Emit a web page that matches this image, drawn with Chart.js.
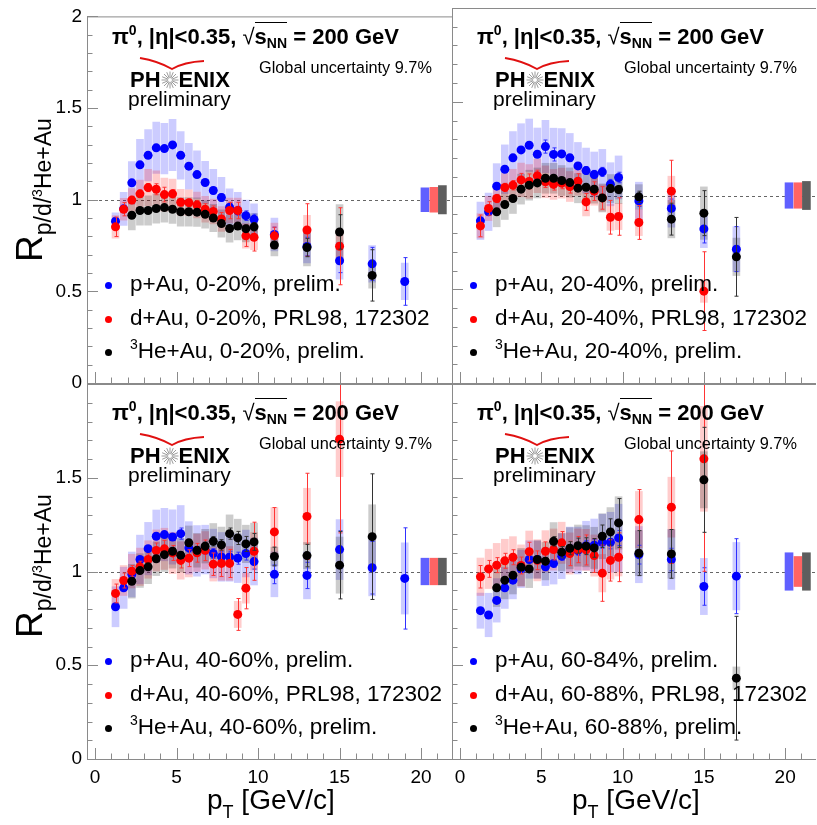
<!DOCTYPE html>
<html>
<head>
<meta charset="utf-8">
<script src="https://cdn.jsdelivr.net/npm/chart.js@4.4.1/dist/chart.umd.min.js"></script>
<style>
  html, body { margin: 0; padding: 0; background: #fff; }
  body { position: relative; width: 817px; height: 825px; overflow: hidden;
         font-family: "Liberation Sans", Arial, Helvetica, sans-serif; color: #000; }
  canvas { position: absolute; left: 0; top: 0; }
  .t { position: absolute; white-space: nowrap; line-height: 1; }
  .title { font-size: 22px; font-weight: bold; }
  .title sup { font-size: 14px; position: relative; top: -1px; vertical-align: super; line-height: 0; }
  .title sub { font-size: 14px; vertical-align: -4px; line-height: 0; }
  .title .rt { font-weight: normal; }
  .title .ov { border-top: 1px solid #000; padding-top: 1px; font-weight: bold; }
  .glob { font-size: 16.3px; }
  .logo { font-size: 22px; font-weight: bold; }
  .logo svg { vertical-align: -2px; }
  .prelim { font-size: 21px; }
  .leg { font-size: 22.5px; }
  .leg sup { font-size: 14px; vertical-align: 9px; line-height: 0; }
  .dot { position: absolute; width: 7px; height: 7px; border-radius: 50%; }
  .ytitle { font-size: 37px; transform: rotate(-90deg); transform-origin: 0 0; }
  .ytitle sub { font-size: 23px; vertical-align: -9px; line-height: 0; }
  .ytitle sup { font-size: 14px; vertical-align: 9px; line-height: 0; }
  .xtitle { font-size: 28px; }
  .xtitle sub { font-size: 18px; vertical-align: -9px; line-height: 0; }
</style>
</head>
<body>
<canvas id="tl" width="817" height="825"></canvas>
<canvas id="tr" width="817" height="825"></canvas>
<canvas id="bl" width="817" height="825"></canvas>
<canvas id="br" width="817" height="825"></canvas>
<script>
// pT bin centres [GeV/c]
const PT = [1.25, 1.75, 2.25, 2.75, 3.25, 3.75, 4.25, 4.75, 5.25, 5.75, 6.25, 6.75, 7.25, 7.75, 8.25, 8.75, 9.25, 9.75, 11, 13, 15, 17, 19];
const X_TICKS = [0, 5, 10, 15, 20];
const Y_TICKS_TOP = [0, 0.5, 1, 1.5, 2];
const Y_TICKS_BOTTOM = [0, 0.5, 1, 1.5];
const REF_LINE = 1;
const GLOBAL_X = [20.24, 20.79, 21.31];

// 0-20%
const P_AU_0_20 = [0.883, 0.95, 1.092, 1.19, 1.242, 1.283, 1.279, 1.299, 1.242, 1.183, 1.137, 1.094, 1.05, 1.012, 0.959, 0.94, 0.913, 0.893, 0.81, 0.745, 0.667, 0.65, 0.554];
const P_AU_0_20_STAT = [0.012, 0.012, 0.01, 0.01, 0.01, 0.01, 0.012, 0.012, 0.014, 0.015, 0.016, 0.017, 0.018, 0.02, 0.022, 0.024, 0.026, 0.028, 0.04, 0.05, 0.065, 0.09, 0.13];
const P_AU_0_20_SYS = [0.045, 0.09, 0.116, 0.139, 0.14, 0.14, 0.138, 0.14, 0.13, 0.125, 0.13, 0.116, 0.116, 0.11, 0.1, 0.1, 0.085, 0.085, 0.09, 0.09, 0.1, 0.1, 0.1];
const D_AU_0_20 = [0.852, 0.948, 0.998, 1.032, 1.066, 1.057, 1.028, 1.032, 0.986, 0.984, 0.971, 0.948, 0.936, 0.895, 0.941, 0.941, 0.803, 0.795, 0.803, 0.835, 0.746, null, null];
const D_AU_0_20_STAT = [0.053, 0.036, 0.02, 0.02, 0.022, 0.03, 0.04, 0.022, 0.02, 0.02, 0.025, 0.03, 0.03, 0.035, 0.045, 0.045, 0.058, 0.075, 0.047, 0.143, 0.21, null, null];
const D_AU_0_20_SYS = [0.062, 0.06, 0.062, 0.075, 0.1, 0.1, 0.09, 0.08, 0.07, 0.07, 0.07, 0.07, 0.068, 0.068, 0.068, 0.068, 0.067, 0.067, 0.07, 0.08, 0.09, null, null];
const HE_AU_0_20 = [null, null, 0.915, 0.941, 0.941, 0.952, 0.957, 0.948, 0.934, 0.934, 0.932, 0.92, 0.9, 0.87, 0.843, 0.856, 0.842, 0.852, 0.753, 0.739, 0.824, 0.587, null];
const HE_AU_0_20_STAT = [null, null, 0.008, 0.008, 0.008, 0.008, 0.008, 0.008, 0.01, 0.01, 0.012, 0.012, 0.014, 0.015, 0.016, 0.018, 0.02, 0.022, 0.02, 0.05, 0.094, 0.14, null];
const HE_AU_0_20_SYS = [null, null, 0.08, 0.08, 0.08, 0.08, 0.08, 0.078, 0.078, 0.078, 0.078, 0.075, 0.075, 0.075, 0.075, 0.075, 0.072, 0.072, 0.06, 0.1, 0.15, 0.07, null];
const GLOBAL_0_20 = [0.065, 0.068, 0.077];

// 20-40%
const P_AU_20_40 = [0.865, 0.913, 1.05, 1.14, 1.201, 1.243, 1.268, 1.22, 1.261, 1.219, 1.222, 1.201, 1.158, 1.133, 1.112, 1.126, 1.06, 1.096, 0.971, 0.931, 0.822, 0.714, null];
const P_AU_20_40_STAT = [0.012, 0.012, 0.01, 0.01, 0.01, 0.01, 0.012, 0.012, 0.035, 0.035, 0.016, 0.017, 0.018, 0.02, 0.022, 0.024, 0.026, 0.028, 0.03, 0.05, 0.075, 0.12, null];
const P_AU_20_40_SYS = [0.1, 0.1, 0.12, 0.13, 0.14, 0.14, 0.14, 0.14, 0.14, 0.14, 0.135, 0.13, 0.125, 0.12, 0.12, 0.12, 0.115, 0.115, 0.1, 0.1, 0.1, 0.12, null];
const D_AU_20_40 = [0.838, 0.931, 0.984, 1.043, 1.055, 1.083, 1.075, 1.105, 1.073, 1.059, 1.066, 1.048, 1.076, 0.966, 1.023, 0.987, 0.884, 0.888, 0.856, 1.023, 0.49, null, null];
const D_AU_20_40_STAT = [0.058, 0.036, 0.022, 0.022, 0.025, 0.035, 0.04, 0.03, 0.03, 0.03, 0.03, 0.035, 0.04, 0.045, 0.05, 0.06, 0.09, 0.1, 0.09, 0.165, 0.21, null, null];
const D_AU_20_40_SYS = [0.065, 0.065, 0.07, 0.075, 0.085, 0.09, 0.09, 0.09, 0.085, 0.08, 0.08, 0.08, 0.075, 0.075, 0.075, 0.07, 0.07, 0.07, 0.07, 0.08, 0.06, null, null];
const HE_AU_20_40 = [null, null, 0.913, 0.952, 0.984, 1.034, 1.055, 1.067, 1.092, 1.092, 1.08, 1.069, 1.039, 1.044, 1.034, 0.987, 1.037, 1.032, 0.993, 0.874, 0.906, 0.673, null];
const HE_AU_20_40_STAT = [null, null, 0.008, 0.008, 0.008, 0.008, 0.008, 0.01, 0.01, 0.01, 0.012, 0.012, 0.014, 0.015, 0.016, 0.018, 0.02, 0.022, 0.03, 0.085, 0.12, 0.21, null];
const HE_AU_20_40_SYS = [null, null, 0.08, 0.08, 0.08, 0.08, 0.08, 0.08, 0.08, 0.08, 0.08, 0.078, 0.078, 0.075, 0.075, 0.075, 0.075, 0.075, 0.065, 0.1, 0.14, 0.1, null];
const GLOBAL_20_40 = [0.068, 0.068, 0.075];

// 40-60%
const P_AU_40_60 = [0.812, 0.913, 0.984, 1.064, 1.122, 1.188, 1.197, 1.184, 1.202, 1.126, 1.11, 1.117, 1.096, 1.078, 1.078, 1.071, 1.096, 1.053, 0.985, 0.979, 1.117, 1.02, 0.963];
const P_AU_40_60_STAT = [0.012, 0.012, 0.012, 0.012, 0.012, 0.014, 0.015, 0.018, 0.03, 0.022, 0.022, 0.024, 0.026, 0.028, 0.03, 0.032, 0.035, 0.04, 0.05, 0.07, 0.1, 0.14, 0.27];
const P_AU_40_60_SYS = [0.107, 0.11, 0.12, 0.13, 0.14, 0.14, 0.14, 0.145, 0.15, 0.14, 0.135, 0.13, 0.13, 0.13, 0.13, 0.13, 0.125, 0.125, 0.12, 0.125, 0.16, 0.15, 0.19];
const D_AU_40_60 = [0.883, 0.952, 1.002, 1.025, 1.064, 1.112, 1.121, 1.099, 1.059, 1.071, 1.1, 1.113, 1.039, 1.043, 1.043, 0.771, 0.911, 1.108, 1.211, 1.294, 1.706, null, null];
const D_AU_40_60_STAT = [0.05, 0.04, 0.03, 0.03, 0.03, 0.04, 0.045, 0.04, 0.04, 0.045, 0.05, 0.055, 0.06, 0.07, 0.075, 0.085, 0.11, 0.155, 0.13, 0.23, 0.5, null, null];
const D_AU_40_60_SYS = [0.075, 0.08, 0.09, 0.1, 0.1, 0.11, 0.11, 0.11, 0.1, 0.1, 0.1, 0.1, 0.09, 0.09, 0.09, 0.07, 0.08, 0.1, 0.13, 0.15, 0.2, null, null];
const HE_AU_40_60 = [null, null, 0.948, 1.005, 1.025, 1.068, 1.09, 1.108, 1.087, 1.153, 1.113, 1.135, 1.161, 1.142, 1.202, 1.179, 1.147, 1.158, 1.08, 1.085, 1.034, 1.186, null];
const HE_AU_40_60_STAT = [null, null, 0.01, 0.01, 0.01, 0.012, 0.012, 0.014, 0.016, 0.018, 0.02, 0.022, 0.025, 0.028, 0.03, 0.035, 0.04, 0.045, 0.05, 0.06, 0.18, 0.335, null];
const HE_AU_40_60_SYS = [null, null, 0.09, 0.09, 0.09, 0.09, 0.09, 0.09, 0.09, 0.09, 0.09, 0.09, 0.095, 0.095, 0.1, 0.1, 0.1, 0.1, 0.05, 0.07, 0.15, 0.17, null];
const GLOBAL_40_60 = [0.071, 0.071, 0.071];

// 60-84% (p+Au), 60-88% (d+Au, 3He+Au)
const P_AU_60_84 = [0.791, 0.768, 0.846, 0.913, 0.954, 1.014, 1.064, 1.064, 1.025, 1.043, 1.082, 1.117, 1.112, 1.138, 1.14, 1.156, 1.156, 1.179, 1.09, 1.064, 0.92, 0.975, null];
const P_AU_60_84_STAT = [0.012, 0.012, 0.012, 0.012, 0.012, 0.014, 0.015, 0.016, 0.018, 0.02, 0.022, 0.024, 0.026, 0.028, 0.03, 0.032, 0.035, 0.04, 0.05, 0.06, 0.1, 0.2, null];
const P_AU_60_84_SYS = [0.094, 0.116, 0.116, 0.11, 0.1, 0.1, 0.1, 0.1, 0.1, 0.11, 0.12, 0.12, 0.125, 0.13, 0.14, 0.15, 0.16, 0.18, 0.15, 0.16, 0.15, 0.18, null];
const D_AU_60_88 = [0.972, 1.014, 1.034, 1.057, 1.076, 1.032, 1.106, 1.06, 1.108, 1.117, 1.153, 1.096, 1.117, 1.115, 1.085, 0.991, 1.059, 1.076, 1.277, 1.343, 1.601, null, null];
const D_AU_60_88_STAT = [0.06, 0.045, 0.04, 0.04, 0.04, 0.045, 0.05, 0.05, 0.05, 0.055, 0.06, 0.065, 0.07, 0.08, 0.09, 0.15, 0.11, 0.13, 0.16, 0.3, 0.6, null, null];
const D_AU_60_88_SYS = [0.1, 0.105, 0.116, 0.115, 0.11, 0.11, 0.11, 0.11, 0.11, 0.11, 0.11, 0.11, 0.11, 0.11, 0.11, 0.1, 0.1, 0.1, 0.15, 0.16, 0.28, null, null];
const HE_AU_60_88 = [null, null, 0.913, 0.954, 0.98, 1.023, 1.014, 1.064, 1.055, 1.161, 1.103, 1.124, 1.138, 1.135, 1.126, 1.188, 1.211, 1.259, 1.098, 1.094, 1.489, 0.431, null];
const HE_AU_60_88_STAT = [null, null, 0.012, 0.012, 0.012, 0.014, 0.015, 0.016, 0.02, 0.025, 0.03, 0.035, 0.04, 0.045, 0.05, 0.06, 0.07, 0.13, 0.12, 0.13, 0.28, 0.33, null];
const HE_AU_60_88_SYS = [null, null, 0.1, 0.1, 0.1, 0.1, 0.1, 0.1, 0.1, 0.1, 0.1, 0.11, 0.11, 0.11, 0.11, 0.12, 0.13, 0.14, 0.12, 0.13, 0.15, 0.06, null];
const GLOBAL_60_88 = [0.1, 0.08, 0.1];

const STYLE = {
  p:  { color: '#0000ff', err: '#3030ff', box: 'rgba(0,0,255,0.2)', glob: '#6060ff' },
  d:  { color: '#ff0000', err: '#ff3434', box: 'rgba(255,0,0,0.2)', glob: '#ff6464' },
  he: { color: '#000000', err: '#333333', box: 'rgba(0,0,0,0.2)', glob: '#5e5e5e' }
};

const FONT = '"Liberation Sans", Arial, Helvetica, sans-serif';

const PANELS = [
  { id: 'tl', area: [87, 8, 452, 383], xLabels: false, yTicks: Y_TICKS_TOP, dx: 0, dy: 0,
    p: [P_AU_0_20, P_AU_0_20_STAT, P_AU_0_20_SYS], d: [D_AU_0_20, D_AU_0_20_STAT, D_AU_0_20_SYS],
    he: [HE_AU_0_20, HE_AU_0_20_STAT, HE_AU_0_20_SYS], glob: GLOBAL_0_20,
    legend: ['p+Au, 0-20%, prelim.', 'd+Au, 0-20%, PRL98, 172302', '<sup>3</sup>He+Au, 0-20%, prelim.'] },
  { id: 'tr', area: [452, 8, 816, 383], xLabels: false, yTicks: null, dx: 365, dy: 0,
    p: [P_AU_20_40, P_AU_20_40_STAT, P_AU_20_40_SYS], d: [D_AU_20_40, D_AU_20_40_STAT, D_AU_20_40_SYS],
    he: [HE_AU_20_40, HE_AU_20_40_STAT, HE_AU_20_40_SYS], glob: GLOBAL_20_40,
    legend: ['p+Au, 20-40%, prelim.', 'd+Au, 20-40%, PRL98, 172302', '<sup>3</sup>He+Au, 20-40%, prelim.'] },
  { id: 'bl', area: [87, 384, 452, 759], xLabels: true, yTicks: Y_TICKS_BOTTOM, dx: 0, dy: 376,
    p: [P_AU_40_60, P_AU_40_60_STAT, P_AU_40_60_SYS], d: [D_AU_40_60, D_AU_40_60_STAT, D_AU_40_60_SYS],
    he: [HE_AU_40_60, HE_AU_40_60_STAT, HE_AU_40_60_SYS], glob: GLOBAL_40_60,
    legend: ['p+Au, 40-60%, prelim.', 'd+Au, 40-60%, PRL98, 172302', '<sup>3</sup>He+Au, 40-60%, prelim.'] },
  { id: 'br', area: [452, 384, 816, 759], xLabels: true, yTicks: null, dx: 365, dy: 376,
    p: [P_AU_60_84, P_AU_60_84_STAT, P_AU_60_84_SYS], d: [D_AU_60_88, D_AU_60_88_STAT, D_AU_60_88_SYS],
    he: [HE_AU_60_88, HE_AU_60_88_STAT, HE_AU_60_88_SYS], glob: GLOBAL_60_88,
    legend: ['p+Au, 60-84%, prelim.', 'd+Au, 60-88%, PRL98, 172302', '<sup>3</sup>He+Au, 60-88%, prelim.'] }
];

// error bars drawn just before each point series
const errorBars = {
  id: 'errorBars',
  beforeDatasetDraw(chart, args) {
    const ds = chart.data.datasets[args.index];
    if (!ds.errorBars) return;
    const { ctx, chartArea: a, scales: { x, y } } = chart;
    ctx.save();
    ctx.beginPath();
    ctx.rect(a.left, a.top, a.width, a.height);
    ctx.clip();
    ctx.strokeStyle = ds.errorColor;
    ctx.lineWidth = 1;
    ds.errorBars.forEach(e => {
      const px = Math.round(x.getPixelForValue(e.x)) + 0.5;
      const y1 = y.getPixelForValue(e.lo);
      const y2 = y.getPixelForValue(e.hi);
      ctx.beginPath();
      ctx.moveTo(px, y1); ctx.lineTo(px, y2);
      ctx.moveTo(px - 2, y1); ctx.lineTo(px + 2, y1);
      ctx.moveTo(px - 2, y2); ctx.lineTo(px + 2, y2);
      ctx.stroke();
    });
    ctx.restore();
  }
};

// frame, inner ticks and the dashed line at 1
const frame = {
  id: 'frame',
  beforeDatasetsDraw(chart) {
    const { ctx, chartArea: a, scales: { y } } = chart;
    const py = Math.round(y.getPixelForValue(REF_LINE)) + 0.5;
    ctx.save();
    ctx.strokeStyle = '#666';
    ctx.lineWidth = 1;
    ctx.setLineDash([3, 3]);
    ctx.beginPath();
    ctx.moveTo(a.left, py); ctx.lineTo(a.right, py);
    ctx.stroke();
    ctx.restore();
  },
  afterDatasetsDraw(chart) {
    const { ctx, chartArea: a, scales: { x, y } } = chart;
    ctx.save();
    ctx.strokeStyle = '#8a8a8a';
    ctx.lineWidth = 1;
    ctx.beginPath();
    ctx.moveTo(a.right, a.top + 0.5); ctx.lineTo(a.left + 0.5, a.top + 0.5);
    ctx.lineTo(a.left + 0.5, a.bottom + 0.5); ctx.lineTo(a.right, a.bottom + 0.5);
    for (let v = 0; v <= 21; v++) {
      const px = Math.round(x.getPixelForValue(v)) + 0.5;
      const len = v % 5 === 0 ? 11 : 5.5;
      ctx.moveTo(px, a.bottom); ctx.lineTo(px, a.bottom - len);
    }
    for (let k = 0; k <= 20; k++) {
      const py = Math.round(y.getPixelForValue(k / 10)) + 0.5;
      const len = k % 5 === 0 ? 11 : 5.5;
      ctx.moveTo(a.left, py); ctx.lineTo(a.left + len, py);
    }
    ctx.stroke();
    ctx.restore();
  }
};

function points(vals) {
  return PT.map((x, i) => ({ x, y: vals[i] })).filter(p => p.y !== null);
}
function boxes(vals, half) {
  return PT.map((x, i) => vals[i] === null ? null : { x, y: [vals[i] - half[i], vals[i] + half[i]] }).filter(Boolean);
}
function bars(vals, err) {
  return PT.map((x, i) => vals[i] === null ? null : { x, lo: vals[i] - err[i], hi: vals[i] + err[i] }).filter(Boolean);
}

function makePanel(p) {
  const [L, T, R, B] = p.area;
  const yw = p.yTicks ? 87 : 0;
  const xh = p.xLabels ? 30 : 0;
  const keys = ['he', 'd', 'p'];
  const datasets = [];
  keys.forEach((k, i) => {
    datasets.push({
      type: 'scatter', data: points(p[k][0]), order: i,
      pointRadius: 4.5, pointHoverRadius: 4.5, pointBorderWidth: 0,
      pointBackgroundColor: STYLE[k].color, showLine: false,
      errorBars: bars(p[k][0], p[k][1]), errorColor: STYLE[k].err
    });
  });
  keys.forEach((k, i) => {
    datasets.push({
      type: 'bar', data: boxes(p[k][0], p[k][2]), order: 3 + i,
      barThickness: 7, grouped: false, borderWidth: 0, backgroundColor: STYLE[k].box
    });
  });
  datasets.push({
    type: 'bar', order: 6, barThickness: 8, grouped: false, borderWidth: 0,
    data: GLOBAL_X.map((x, i) => ({ x, y: [REF_LINE - p.glob[i], REF_LINE + p.glob[i]] })),
    backgroundColor: ['p', 'd', 'he'].map(k => STYLE[k].glob)
  });

  new Chart(document.getElementById(p.id), {
    type: 'scatter',
    data: { datasets },
    options: {
      responsive: false, animation: false, devicePixelRatio: 1, events: [],
      layout: { autoPadding: false, padding: { left: L - yw, top: T, right: 817 - R, bottom: 825 - B - xh } },
      plugins: { legend: { display: false }, tooltip: { enabled: false } },
      scales: {
        x: {
          type: 'linear', min: -0.5, max: 21.9, offset: false,
          grid: { display: false, drawTicks: false }, border: { display: false },
          ticks: { display: p.xLabels, padding: 7, color: '#000', font: { family: FONT, size: 19 },
                   maxRotation: 0, autoSkip: false, callback: v => String(v) },
          afterBuildTicks: s => { s.ticks = X_TICKS.map(v => ({ value: v })); },
          afterFit: s => { s.height = xh; }
        },
        y: {
          type: 'linear', min: 0, max: 2,
          grid: { display: false, drawTicks: false }, border: { display: false },
          ticks: { display: !!p.yTicks, padding: 5, color: '#000', font: { family: FONT, size: 19 },
                   autoSkip: false, callback: v => String(v) },
          afterBuildTicks: s => { s.ticks = (p.yTicks || Y_TICKS_TOP).map(v => ({ value: v })); },
          afterFit: s => { s.width = yw; }
        }
      }
    },
    plugins: [errorBars, frame]
  });
}

PANELS.forEach(makePanel);

// text annotations
const TITLE_HTML = 'π<sup>0</sup>, |η|&lt;0.35, <span class="rt">√</span><span class="ov">s<sub>NN</sub></span> = 200 GeV';

function addDiv(cls, html, left, top) {
  const d = document.createElement('div');
  d.className = cls;
  d.innerHTML = html;
  d.style.left = left + 'px';
  d.style.top = top + 'px';
  document.body.appendChild(d);
  return d;
}

function starSvg() {
  let lines = '';
  for (let k = 0; k < 16; k++) {
    const a = k * Math.PI / 8;
    lines += `<line x1="${9 + 2 * Math.cos(a)}" y1="${9 + 2 * Math.sin(a)}" x2="${9 + 8.5 * Math.cos(a)}" y2="${9 + 8.5 * Math.sin(a)}"/>`;
  }
  return `<svg width="18" height="18" viewBox="0 0 18 18"><g stroke="#9a9a9a" stroke-width="1">${lines}</g></svg>`;
}

PANELS.forEach(p => {
  const dx = p.dx, dy = p.dy;
  addDiv('t title', TITLE_HTML, 112 + dx, 26 + dy);
  addDiv('t glob', 'Global uncertainty 9.7%', 259 + dx, 59 + dy);
  addDiv('t logo', 'PH' + starSvg() + 'ENIX', 130 + dx, 69 + dy);
  addDiv('t', '<svg width="70" height="16"><path d="M2,2 Q20,5 34,13 Q46,6 66,5" stroke="#e01010" stroke-width="2" fill="none"/></svg>', 138 + dx, 56 + dy);
  addDiv('t prelim', 'preliminary', 128 + dx, 88 + dy);
  const keys = ['p', 'd', 'he'];
  const base = [292, 325.5, 359];
  p.legend.forEach((txt, i) => {
    addDiv('t leg', txt, 130 + dx, base[i] - 19 + dy);
    const dot = addDiv('dot', '', 105 + dx, base[i] - 10 + dy);
    dot.style.background = STYLE[keys[i]].color;
  });
});

['0', '376'].forEach(off => {
  addDiv('t ytitle', 'R<sub>p/d/<sup>3</sup>He+Au</sub>', 11, 262 + Number(off));
});
addDiv('t xtitle', 'p<sub>T</sub> [GeV/c]', 207, 786);
addDiv('t xtitle', 'p<sub>T</sub> [GeV/c]', 572, 786);
</script>
</body>
</html>
